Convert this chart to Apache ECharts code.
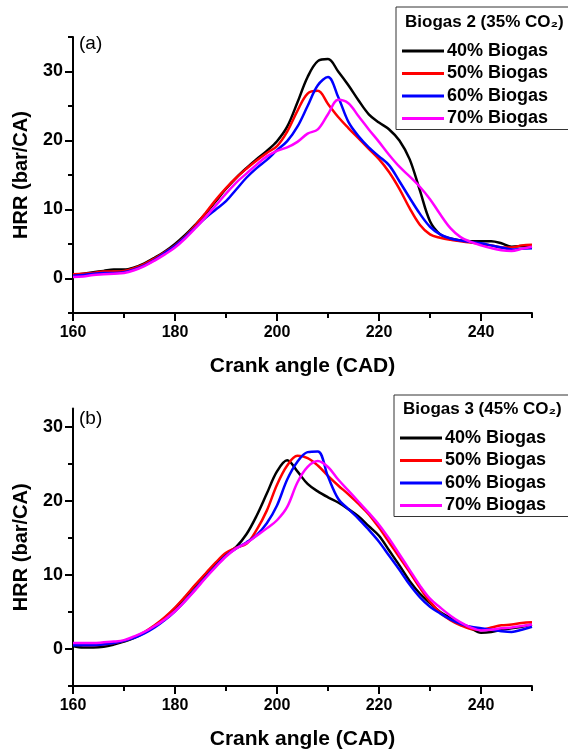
<!DOCTYPE html>
<html>
<head>
<meta charset="utf-8">
<script src="https://cdn.jsdelivr.net/npm/echarts@6/dist/echarts.min.js"></script>
<style>
html,body{margin:0;padding:0;background:#fff;}
#chart{width:568px;height:754px;}
</style>
</head>
<body>
<div id="chart"></div>
<script>
// ---------- data ----------
const crankAngle = [160,162,164,166,168,170,172,174,176,178,180,182,184,186,188,190,192,194,196,198,200,202,204,206,208,210,212,214,216,218,220,222,224,226,228,230,232,234,236,238,240,242,244,246,248,250];
const seriesNames = ['40% Biogas','50% Biogas','60% Biogas','70% Biogas'];
const seriesColors = ['#000000','#ff0000','#0000ff','#ff00ff'];

// Panel (a): Biogas 2 (35% CO2)
const b2_40 = [0.5,0.7,0.9,1.1,1.3,1.3,1.6,2.2,3.0,3.9,5.0,6.3,7.8,9.4,11.2,13.0,14.6,16.0,17.3,18.5,19.9,22.0,25.5,29.2,31.5,31.8,30.0,28.0,25.8,23.8,22.6,21.6,20.0,17.3,12.8,8.3,6.4,5.8,5.5,5.4,5.4,5.4,5.1,4.6,4.7,4.8];
const b2_50 = [0.6,0.7,0.8,1.0,1.0,1.1,1.5,2.1,2.9,3.8,4.8,6.1,7.7,9.5,11.4,13.1,14.6,15.9,17.1,18.2,19.2,21.3,24.3,26.8,27.2,25.3,23.4,21.8,20.3,18.8,17.3,15.4,13.0,10.2,7.8,6.4,5.9,5.6,5.4,5.2,5.0,4.8,4.5,4.5,4.8,4.9];
const b2_60 = [0.4,0.5,0.7,0.8,0.8,0.9,1.3,1.9,2.7,3.7,4.7,6.0,7.4,8.8,10.0,11.2,12.9,14.6,16.0,17.2,18.6,19.9,22.0,25.0,28.0,29.2,26.3,22.7,20.6,19.0,17.7,16.4,14.1,11.7,9.4,7.5,6.4,5.8,5.5,5.3,5.1,4.8,4.5,4.2,4.3,4.4];
const b2_70 = [0.2,0.3,0.5,0.6,0.7,0.8,1.2,1.8,2.6,3.5,4.5,5.8,7.3,8.9,10.6,12.3,13.9,15.2,16.5,17.7,18.5,19.0,19.8,21.0,21.6,23.8,25.9,25.4,23.5,21.6,19.8,17.9,16.2,14.8,13.3,11.5,9.3,7.3,6.0,5.3,4.8,4.4,4.1,4.0,4.3,4.6];

// Panel (b): Biogas 3 (45% CO2)
const b3_40 = [0.4,0.2,0.2,0.3,0.6,1.0,1.5,2.2,3.1,4.2,5.5,7.0,8.6,10.1,11.5,12.8,13.8,15.5,18.0,21.0,24.0,25.5,24.0,22.3,21.3,20.5,19.8,18.9,17.9,16.6,15.3,13.3,11.3,9.2,7.5,6.2,5.0,4.2,3.5,2.8,2.2,2.3,2.6,2.8,3.0,3.3];
const b3_50 = [0.6,0.5,0.5,0.6,0.8,1.1,1.6,2.3,3.2,4.3,5.6,7.1,8.7,10.2,11.7,13.0,13.7,14.2,16.1,18.7,22.2,24.8,26.1,25.8,24.8,23.4,22.1,20.9,19.6,18.2,16.4,14.4,12.4,10.4,8.3,6.4,4.9,3.9,3.2,2.7,2.6,2.9,3.2,3.3,3.5,3.6];
const b3_60 = [0.5,0.5,0.5,0.6,0.8,1.1,1.5,2.1,2.9,3.9,5.1,6.5,8.1,9.7,11.2,12.6,13.6,14.4,15.4,17.0,19.4,22.9,25.3,26.6,26.7,23.3,20.3,18.9,17.6,16.1,14.5,12.6,10.7,8.7,7.0,5.7,4.8,4.0,3.4,3.0,2.8,2.6,2.4,2.3,2.6,3.0];
const b3_70 = [0.8,0.8,0.8,0.9,1.0,1.2,1.7,2.3,3.1,4.0,5.1,6.5,8.0,9.6,11.1,12.5,13.6,14.3,15.3,16.3,17.4,19.2,22.5,24.6,25.4,24.6,22.9,21.4,19.9,18.4,16.8,14.9,12.8,10.7,8.6,6.8,5.6,4.5,3.6,2.9,2.5,2.6,2.8,2.9,3.1,3.3];

// ticks
const xMajorTicks = [160,180,200,220,240];
const xMinorTicks = [170,190,210,230,250];
const yMajorTicks = [0,10,20,30];
const yMinorTicksA = [-5,5,15,25,35];
const yMinorTicksB = [-5,5,15,25];
const xTitle = 'Crank angle (CAD)';
const yTitle = 'HRR (bar/CA)';
const legendTitleA = 'Biogas 2 (35% CO\u2082)';
const legendTitleB = 'Biogas 3 (45% CO\u2082)';
const panelA = '(a)';
const panelB = '(b)';

// ---------- chart ----------
const FONT = '"Liberation Sans", Arial, sans-serif';
const chart = echarts.init(document.getElementById('chart'), null, {renderer:'canvas'});

const grids = [
  {left:73, top:37, width:459, height:276},
  {left:73, top:408.5, width:459, height:277.5}
];

function xAxes(gi){
  return [
    {type:'value', gridIndex:gi, min:160, max:250, interval:10, position:'bottom',
     name: xTitle, nameLocation:'middle', nameGap:43,
     nameTextStyle:{fontFamily:FONT, fontWeight:'bold', fontSize:21, color:'#000'},
     axisLine:{show:true, onZero:false, lineStyle:{color:'#000', width:2}},
     axisTick:{show:true, length:8, lineStyle:{color:'#000', width:2}, customValues:xMajorTicks},
     axisLabel:{show:true, margin:12, fontFamily:FONT, fontWeight:'bold', fontSize:16, color:'#000', customValues:xMajorTicks},
     splitLine:{show:false}},
    {type:'value', gridIndex:gi, min:160, max:250, interval:10, position:'bottom',
     axisLine:{show:false, onZero:false},
     axisTick:{show:true, length:5, lineStyle:{color:'#000', width:2}, customValues:xMinorTicks},
     axisLabel:{show:false},
     splitLine:{show:false}}
  ];
}
function yAxes(gi, maxV, minorTicks){
  return [
    {type:'value', gridIndex:gi, min:-5, max:maxV, interval:5, position:'left',
     name: yTitle, nameLocation:'middle', nameGap:42,
     nameTextStyle:{fontFamily:FONT, fontWeight:'bold', fontSize:20, color:'#000'},
     axisLine:{show:true, onZero:false, lineStyle:{color:'#000', width:2}},
     axisTick:{show:true, length:8, lineStyle:{color:'#000', width:2}, customValues:yMajorTicks},
     axisLabel:{show:true, margin:10, fontFamily:FONT, fontWeight:'bold', fontSize:18, color:'#000', customValues:yMajorTicks},
     splitLine:{show:false}},
    {type:'value', gridIndex:gi, min:-5, max:maxV, interval:5, position:'left',
     axisLine:{show:false, onZero:false},
     axisTick:{show:true, length:5, lineStyle:{color:'#000', width:2}, customValues:minorTicks},
     axisLabel:{show:false},
     splitLine:{show:false}}
  ];
}

function makeSeries(gi, arrays){
  return arrays.map((arr, i) => ({
    name: seriesNames[i],
    type:'line',
    xAxisIndex: gi*2, yAxisIndex: gi*2,
    data: crankAngle.map((x, k) => [x, arr[k]]),
    showSymbol:false, symbol:'none',
    smooth:0.35,
    silent:true,
    color: seriesColors[i],
    lineStyle:{color: seriesColors[i], width:2.5}
  }));
}

function makeLegend(left, top, padTop){
  return {
    show:true, orient:'vertical', left:left, top:top,
    padding:[padTop, 40, 2, 6],
    itemGap:4.5, itemWidth:42, itemHeight:3, icon:'rect',
    selectedMode:false,
    borderColor:'#333', borderWidth:1, backgroundColor:'#fff',
    textStyle:{fontFamily:FONT, fontWeight:'bold', fontSize:18, color:'#000', lineHeight:18, padding:[0,0,0,-2]},
    data: seriesNames
  };
}

const option = {
  animation:false,
  backgroundColor:'#fff',
  grid: grids,
  xAxis: [...xAxes(0), ...xAxes(1)],
  yAxis: [...yAxes(0, 35, yMinorTicksA), ...yAxes(1, 32.5, yMinorTicksB)],
  legend: [makeLegend(396, 7, 35), makeLegend(394, 395, 34)],
  series: [...makeSeries(0, [b2_40, b2_50, b2_60, b2_70]), ...makeSeries(1, [b3_40, b3_50, b3_60, b3_70])],
  graphic: [
    {type:'text', left:405, top:14, z:100, style:{text:legendTitleA, fontFamily:FONT, fontWeight:'bold', fontSize:17, fill:'#000'}},
    {type:'text', left:403, top:401, z:100, style:{text:legendTitleB, fontFamily:FONT, fontWeight:'bold', fontSize:17, fill:'#000'}},
    {type:'text', left:79, top:34, z:100, style:{text:panelA, fontFamily:FONT, fontSize:19, fill:'#000'}},
    {type:'text', left:79, top:409, z:100, style:{text:panelB, fontFamily:FONT, fontSize:19, fill:'#000'}}
  ]
};
chart.setOption(option);
</script>
</body>
</html>
